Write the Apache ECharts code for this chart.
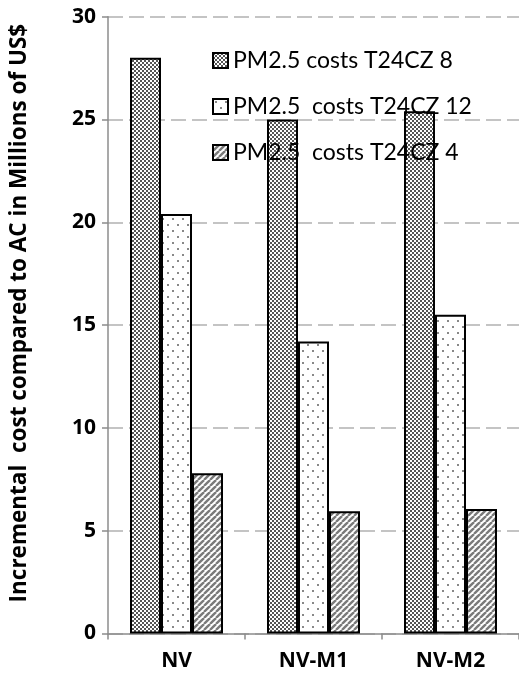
<!DOCTYPE html>
<html>
<head>
<meta charset="utf-8">
<script src="https://cdn.jsdelivr.net/npm/echarts@6/dist/echarts.min.js"></script>
<style>
  html, body { margin: 0; padding: 0; background: #fff; }
  #chart { width: 519px; height: 679px; }
</style>
</head>
<body>
<div id="chart"></div>
<script>
// categories and values
var categorias = ["NV", "NV-M1", "NV-M2"];
var nombresSeries = ["PM2.5 costs T24CZ 8", "PM2.5  costs T24CZ 12", "PM2.5  costs T24CZ 4"];
var costesCZ8 = [28.0, 25.0, 25.4];
var costesCZ12 = [20.4, 14.2, 15.5];
var costesCZ4 = [7.8, 5.95, 6.05];
var ticksY = [0, 5, 10, 15, 20, 25, 30];

// fill patterns like the original office chart
function patronCuadros() {
  var c = document.createElement("canvas");
  c.width = 4; c.height = 4;
  var ctx = c.getContext("2d");
  ctx.fillStyle = "#fff";
  ctx.fillRect(0, 0, 4, 4);
  ctx.fillStyle = "#555";
  ctx.fillRect(0, 0, 2, 2);
  ctx.fillRect(2, 2, 2, 2);
  return { image: c, repeat: "repeat" };
}

function patronPuntos() {
  var c = document.createElement("canvas");
  c.width = 10; c.height = 12;
  var ctx = c.getContext("2d");
  ctx.fillStyle = "#fff";
  ctx.fillRect(0, 0, 10, 12);
  ctx.fillStyle = "#888";
  ctx.fillRect(2, 2, 2, 2);
  ctx.fillRect(7, 8, 2, 2);
  return { image: c, repeat: "repeat" };
}

function patronRayas() {
  var c = document.createElement("canvas");
  c.width = 6; c.height = 6;
  var ctx = c.getContext("2d");
  ctx.fillStyle = "#fff";
  ctx.fillRect(0, 0, 6, 6);
  ctx.strokeStyle = "#7a7a7a";
  ctx.lineWidth = 2.4;
  for (var x = -6; x <= 6; x += 6) {
    ctx.beginPath();
    ctx.moveTo(x, 6);
    ctx.lineTo(x + 6, 0);
    ctx.stroke();
  }
  return { image: c, repeat: "repeat" };
}

var rellenos = [patronCuadros(), patronPuntos(), patronRayas()];
var valores = [costesCZ8, costesCZ12, costesCZ4];

var fuente = "Lato, 'Open Sans', sans-serif";
var fuenteNegrita = "'Open Sans', 'DejaVu Sans', sans-serif";

var option = {
  animation: false,
  grid: {
    left: 101,
    top: 16.7,
    bottom: 45.5,
    right: -6.5,
    containLabel: false,
  },
  legend: {
    orient: "vertical",
    left: 207,
    top: 44,
    itemWidth: 15,
    itemHeight: 15,
    itemGap: 23,
    icon: "rect",
    textStyle: {
      fontFamily: fuente,
      fontSize: 23,
      lineHeight: 22,
      color: "#000",
    },
    data: nombresSeries,
  },
  xAxis: {
    type: "category",
    data: categorias,
    axisLine: { lineStyle: { color: "#8c8c8c", width: 1.5 } },
    axisTick: { show: true, length: 6, lineStyle: { color: "#8c8c8c", width: 1.5 } },
    axisLabel: {
      margin: 17,
      fontFamily: fuenteNegrita,
      fontWeight: "bold",
      fontSize: 21,
      color: "#000",
    },
  },
  yAxis: {
    type: "value",
    min: ticksY[0],
    max: ticksY[ticksY.length - 1],
    interval: 5,
    name: "Incremental  cost compared to AC in Millions of US$",
    nameLocation: "middle",
    nameGap: 77,
    nameTextStyle: {
      fontFamily: fuenteNegrita,
      fontWeight: "bold",
      fontSize: 22.5,
      color: "#000",
      padding: [0, 0, 0, 24],
    },
    axisLine: { show: true, lineStyle: { color: "#8c8c8c", width: 1.5 } },
    axisTick: { show: true, length: 6, lineStyle: { color: "#8c8c8c", width: 1.5 } },
    axisLabel: {
      margin: 12,
      fontFamily: fuenteNegrita,
      fontWeight: "bold",
      fontSize: 21,
      color: "#000",
    },
    splitLine: {
      lineStyle: { color: "#c4c4c4", width: 2, type: [15, 6] },
    },
  },
  series: nombresSeries.map(function (nombre, i) {
    return {
      name: nombre,
      type: "bar",
      data: valores[i],
      barWidth: 31,
      barGap: "0%",
      itemStyle: {
        color: rellenos[i],
        borderColor: "#000",
        borderWidth: 2,
      },
    };
  }),
};

var dom = document.getElementById("chart");
var myChart = echarts.init(dom, null, { renderer: "canvas" });
myChart.setOption(option);
</script>
</body>
</html>
